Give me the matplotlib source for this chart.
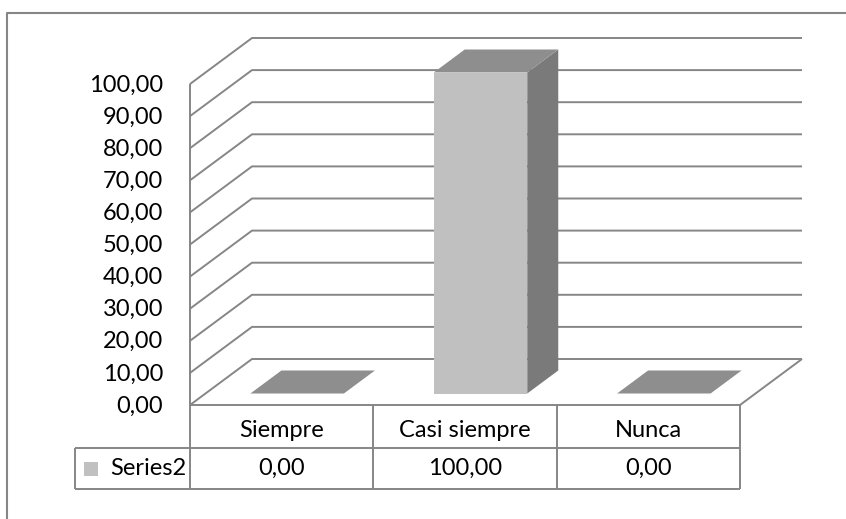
import matplotlib
matplotlib.use("Agg")
import matplotlib.pyplot as plt
from matplotlib.patches import Polygon
from matplotlib.lines import Line2D
import numpy as np

# ---- data ----
categories = ["Siempre", "Casi siempre", "Nunca"]
series_name = "Series2"
values = [0.0, 100.0, 0.0]
y_ticks = [0, 10, 20, 30, 40, 50, 60, 70, 80, 90, 100]

def fmt(v):
    return f"{v:.2f}".replace(".", ",")

# ---- style ----
W, H, DPI = 846, 519, 100
GRID = "#868686"
FRONT = "#C0C0C0"
TOP = "#8E8E8E"
SIDE = "#7A7A7A"
FONT = "Lato"
FS = 17
DEPTH = (62, 46)      # px offset of back plane
BAR_D = (0.25, 0.75)  # depth range of bars
BAR_W = 0.51
ROW_H = (43, 41)
LABEL_W = 115

plt.rcParams["font.family"] = [FONT, "DejaVu Sans"]
fig = plt.figure(figsize=(W / DPI, H / DPI), dpi=DPI)
fig.patch.set_facecolor("white")
ax = fig.add_axes([190 / W, (H - 405) / H, 550 / W, 321 / H])
ax.set_xlim(0, len(categories))
ax.set_ylim(0, 100)
ax.axis("off")

# overlay axes in pixel coordinates (display space drawing)
ov = fig.add_axes([0, 0, 1, 1], facecolor="none")
ov.set_xlim(0, W)
ov.set_ylim(0, H)
ov.axis("off")

def proj(x, v, d):
    px, py = ax.transData.transform((x, v))
    return (px + DEPTH[0] * d, py + DEPTH[1] * d)

def line(pts, **kw):
    xs, ys = zip(*pts)
    ov.add_line(Line2D(xs, ys, color=kw.get("color", GRID), lw=kw.get("lw", 1.4),
                       solid_capstyle="butt", zorder=kw.get("zorder", 1)))

ncat = len(categories)
# walls / gridlines
for v in y_ticks:
    line([proj(0, v, 0), proj(0, v, 1), proj(ncat, v, 1)])
# left wall front edge
line([proj(0, 0, 0), proj(0, y_ticks[-1], 0)])
# floor
line([proj(0, 0, 0), proj(ncat, 0, 0), proj(ncat, 0, 1)])

# bars
for i, v in enumerate(values):
    x0, x1 = i + 0.5 - BAR_W / 2, i + 0.5 + BAR_W / 2
    d0, d1 = BAR_D
    top = [proj(x0, v, d0), proj(x1, v, d0), proj(x1, v, d1), proj(x0, v, d1)]
    if v > 0:
        side = [proj(x1, 0, d0), proj(x1, 0, d1), proj(x1, v, d1), proj(x1, v, d0)]
        front = [proj(x0, 0, d0), proj(x1, 0, d0), proj(x1, v, d0), proj(x0, v, d0)]
        ov.add_patch(Polygon(side, closed=True, fc=SIDE, ec="none", zorder=3))
        ov.add_patch(Polygon(front, closed=True, fc=FRONT, ec="none", zorder=3))
    ov.add_patch(Polygon(top, closed=True, fc=TOP, ec="none", zorder=3))

# y tick labels
for v in y_ticks:
    px, py = proj(0, v, 0)
    ov.text(px - 27, py - 1, fmt(v), ha="right", va="center", fontsize=FS, color="black")

# data table
xl, yt = proj(0, 0, 0)
xr, _ = proj(ncat, 0, 0)
y1 = yt - ROW_H[0]
y2 = y1 - ROW_H[1]
for i in range(ncat + 1):
    xb, _ = proj(i, 0, 0)
    line([(xb, yt), (xb, y2)], zorder=4)
line([(xl - LABEL_W, y1), (xr, y1)], zorder=4)
line([(xl - LABEL_W, y2), (xr, y2)], zorder=4)
line([(xl - LABEL_W, y1), (xl - LABEL_W, y2)], zorder=4)
for i, (c, v) in enumerate(zip(categories, values)):
    xc, _ = proj(i + 0.5, 0, 0)
    ov.text(xc, (yt + y1) / 2 - 4, c, ha="center", va="center", fontsize=FS)
    ov.text(xc, (y1 + y2) / 2, fmt(v), ha="center", va="center", fontsize=FS)
ym = (y1 + y2) / 2
ov.add_patch(Polygon([(xl - LABEL_W + 9, ym - 7), (xl - LABEL_W + 23, ym - 7),
                      (xl - LABEL_W + 23, ym + 7), (xl - LABEL_W + 9, ym + 7)],
                     closed=True, fc=FRONT, ec="none", zorder=4))
ov.text(xl - 4, ym, series_name, ha="right", va="center", fontsize=FS)

# chart frame
line([(7, 0), (7, H - 13), (W, H - 13)], lw=1.5)

fig.savefig("out.png", dpi=DPI, facecolor="white")
